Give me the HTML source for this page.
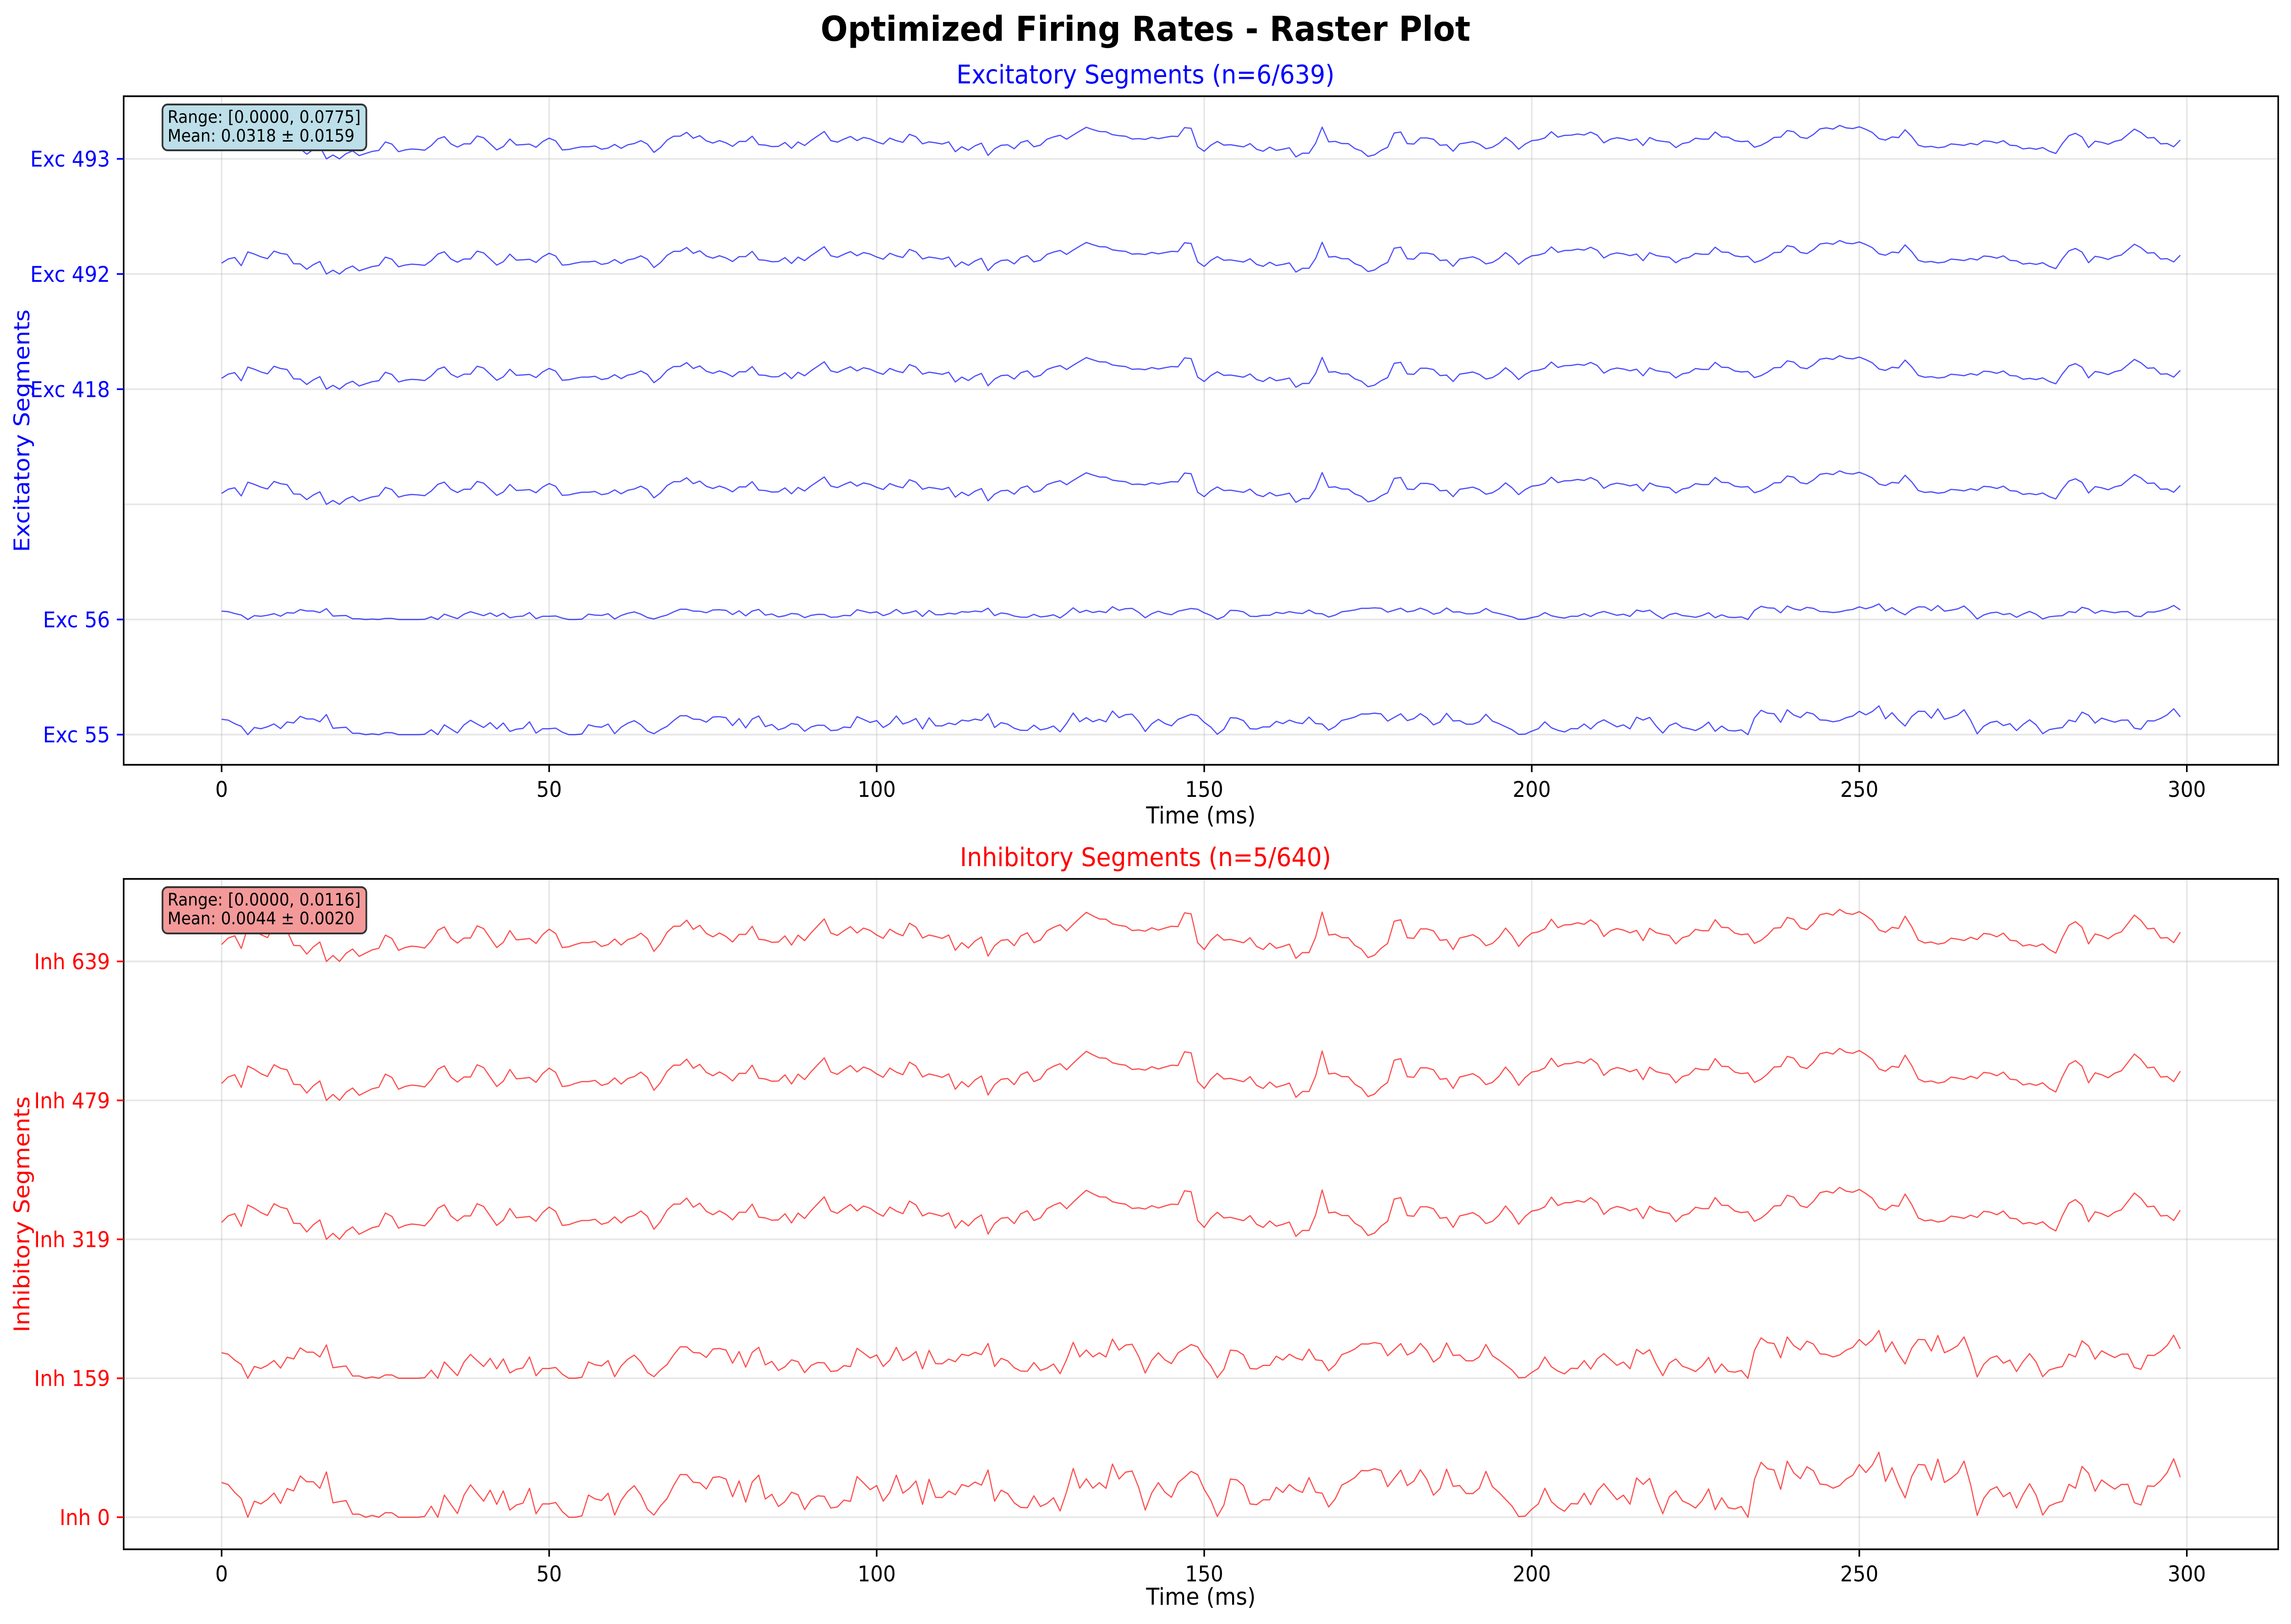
<!DOCTYPE html>
<html>
<head>
<meta charset="utf-8">
<style>
  html,body{margin:0;padding:0;background:#fff;width:100%;height:100%;overflow:hidden;}
  svg{display:block;width:100vw;height:100vh;}
  text{font-family:"DejaVu Sans","Liberation Sans",sans-serif;}
</style>
</head>
<body>
<svg id="fig" xmlns="http://www.w3.org/2000/svg" viewBox="0 0 5372 3544" preserveAspectRatio="none">
  <rect x="0" y="0" width="5372" height="3544" fill="#ffffff"/>
  <text x="2686" y="89" text-anchor="middle" font-size="75" font-weight="bold" fill="#000">Optimized Firing Rates - Raster Plot</text>

  <g id="top">
    <g id="topGrid"></g>
    <g id="topTraces"></g>
    <rect x="290" y="210" width="5052" height="1459" fill="none" stroke="#000" stroke-width="3.7"/>
    <g id="topTicks"></g>
    <text x="2686" y="182" text-anchor="middle" font-size="56" fill="#0000ff">Excitatory Segments (n=6/639)</text>
    <text x="2816" y="1797" text-anchor="middle" font-size="51" fill="#000">Time (ms)</text>
    <text transform="translate(69,940) rotate(-90)" text-anchor="middle" font-size="51" fill="#0000ff">Excitatory Segments</text>
    <g>
      <rect x="381" y="228" width="478" height="100" rx="12" ry="12" fill="#bcdfe9" stroke="#333" stroke-width="4"/>
      <text x="393" y="268" font-size="37" fill="#000">Range: [0.0000, 0.0775]</text>
      <text x="393" y="309" font-size="37" fill="#000">Mean: 0.0318 ± 0.0159</text>
    </g>
  </g>

  <g id="bot">
    <g id="botGrid"></g>
    <g id="botTraces"></g>
    <rect x="290" y="1918" width="5052" height="1463" fill="none" stroke="#000" stroke-width="3.7"/>
    <g id="botTicks"></g>
    <text x="2686" y="1890" text-anchor="middle" font-size="56" fill="#ff0000">Inhibitory Segments (n=5/640)</text>
    <text x="2816" y="3502" text-anchor="middle" font-size="51" fill="#000">Time (ms)</text>
    <text transform="translate(69,2650) rotate(-90)" text-anchor="middle" font-size="51" fill="#ff0000">Inhibitory Segments</text>
    <g>
      <rect x="381" y="1936" width="478" height="101" rx="12" ry="12" fill="#f39999" stroke="#333" stroke-width="4"/>
      <text x="393" y="1976" font-size="37" fill="#000">Range: [0.0000, 0.0116]</text>
      <text x="393" y="2017" font-size="37" fill="#000">Mean: 0.0044 ± 0.0020</text>
    </g>
  </g>
</svg>
<script>
// ---- data (relative firing-rate amplitude, arbitrary units, one value per ms) ----
const xTicks = [0, 50, 100, 150, 200, 250, 300];
const excLabels = ["Exc 55", "Exc 56", "", "Exc 418", "Exc 492", "Exc 493"];
const inhLabels = ["Inh 0", "Inh 159", "Inh 319", "Inh 479", "Inh 639"];

const rateShapeA = [
111,153,168,85,225,203,175,156,233,210,
200,105,103,48,95,127,0,39,0,53,
81,33,55,76,86,172,150,73,91,100,
96,88,135,203,226,153,120,153,153,233,
215,153,91,125,202,141,145,150,118,175,
211,183,91,96,111,123,123,131,98,110,
147,107,143,156,185,150,66,116,190,230,
231,270,210,236,183,161,186,163,127,177,
177,230,145,140,125,127,167,107,172,136,
188,233,278,186,170,201,228,186,218,203,
173,151,211,185,168,250,225,153,173,163,
151,173,73,123,88,133,160,35,103,138,
143,103,167,187,123,140,200,223,240,200,
243,283,321,298,278,276,246,236,230,202,
206,198,220,205,218,230,228,318,311,123,
78,138,177,140,144,133,122,155,98,78,
120,86,98,113,20,58,58,158,323,173,
178,156,155,105,81,25,41,86,118,263,
273,155,151,213,213,200,138,143,78,153,
163,175,150,103,118,158,218,168,98,150,
185,
193,213,276,221,239,241,253,243,272,241,
163,200,215,205,187,203,136,217,188,178,
170,115,156,168,210,201,201,273,223,221,
185,175,180,118,138,173,218,221,288,276,
220,208,248,305,315,303,340,315,308,326,
300,268,206,191,223,216,296,228,140,121,
127,113,121,152,146,137,158,143,183,178,
161,185,139,134,101,110,98,115,78,55,
155,236,260,223,115,180,168,148,178,193,
248,303,268,213,217,153,156,123,191
];

const rateShapeC = [
227,214,162,122,0,105,87,116,158,90,
187,172,270,232,232,189,296,94,102,109,
20,20,0,12,0,30,29,0,0,0,
0,5,72,0,145,84,24,144,212,157,
105,177,84,172,47,80,92,189,22,87,
87,96,37,0,0,9,145,120,110,157,
14,110,169,206,145,52,14,74,122,207,
279,279,229,225,185,260,265,250,134,237,
99,230,275,119,150,70,102,164,147,50,
114,140,137,60,67,112,104,266,224,180,
207,
105,162,275,157,189,237,84,248,130,129,
171,147,214,200,230,210,309,105,177,154,
94,64,62,140,70,90,127,41,167,319,
190,251,190,226,189,348,250,295,302,194,
47,160,226,164,130,225,262,300,279,182,
112,5,80,250,244,207,87,82,114,114,
196,162,214,180,162,259,164,157,67,120,
210,232,260,305,304,317,306,200,254,308,
207,236,310,247,144,187,314,202,207,155,
155,190,300,200,162,117,72,4,7,52,
87,189,102,64,39,89,87,157,82,172,
219,167,115,144,85,257,215,254,127,23,
134,172,107,87,60,109,185,49,127,62,
54,70,0,247,359,317,309,182,367,290,
252,330,304,217,212,190,207,250,274,344,
292,342,425,234,324,214,127,267,345,342,
242,380,227,254,289,367,212,12,124,179,
199,134,162,60,149,219,144,14,74,92,
104,215,190,332,287,170,244,212,184,214,
215,95,80,205,202,239,292,382,262
];

const excSeries = [
  {name:"exc-55",  row:0, data:rateShapeC, gain:0.000588},
  {name:"exc-56",  row:1, data:rateShapeC, gain:0.000318},
  {name:"exc-row3",row:2, data:rateShapeA, gain:0.000854},
  {name:"exc-418", row:3, data:rateShapeA, gain:0.000854},
  {name:"exc-492", row:4, data:rateShapeA, gain:0.000854},
  {name:"exc-493", row:5, data:rateShapeA, gain:0.000854}
];
const inhSeries = [
  {name:"inh-0",   row:0, data:rateShapeC, gain:0.00110},
  {name:"inh-159", row:1, data:rateShapeC, gain:0.00081},
  {name:"inh-319", row:2, data:rateShapeA, gain:0.00110},
  {name:"inh-479", row:3, data:rateShapeA, gain:0.00110},
  {name:"inh-639", row:4, data:rateShapeA, gain:0.00110}
];

const NS = "http://www.w3.org/2000/svg";
const axL = 290, axR = 5342;
const xMin = -14.95, xMax = 313.95;
function xPos(t){ return axL + (t - xMin) / (xMax - xMin) * (axR - axL); }

function makeY(top, bottom, yMin, yMax){
  return v => bottom - (v - yMin) / (yMax - yMin) * (bottom - top);
}
const yTop = makeY(210, 1669, -0.262, 5.544);
const yBot = makeY(1918, 3381, -0.231, 4.594);

function el(tag, attrs, parent){
  const e = document.createElementNS(NS, tag);
  for (const k in attrs) e.setAttribute(k, attrs[k]);
  parent.appendChild(e);
  return e;
}

function drawPanel(prefix, top, bottom, yFn, labels, series, color, colorHex){
  const grid = document.getElementById(prefix + "Grid");
  const traces = document.getElementById(prefix + "Traces");
  const ticks = document.getElementById(prefix + "Ticks");
  xTicks.forEach(t => {
    const x = xPos(t);
    const g = el("line", {x1:x, x2:x, y1:top, y2:bottom, stroke:"#b0b0b0", "stroke-opacity":"0.3", "stroke-width":"3.7"}, grid);
    
    
    const tk = el("line", {x1:x, x2:x, y1:bottom, y2:bottom + 16, stroke:"#000", "stroke-width":"3.7"}, ticks);
    
    
    const lb = el("text", {x:x, y:bottom + 70, "text-anchor":"middle", "font-size":"47", fill:"#000"}, ticks);
    lb.textContent = String(t);
    
    
  });
  labels.forEach((lab, i) => {
    const y = yFn(i);
    const g = el("line", {x1:axL, x2:axR, y1:y, y2:y, stroke:"#b0b0b0", "stroke-opacity":"0.3", "stroke-width":"3.7"}, grid);
    
    
    if (lab !== "") {
      const tk = el("line", {x1:axL - 16, x2:axL, y1:y, y2:y, stroke:colorHex, "stroke-width":"3.7"}, ticks);
      
      
      const lb = el("text", {x:axL - 32, y:y + 17, "text-anchor":"end", "font-size":"47", fill:colorHex}, ticks);
      lb.textContent = lab;
      
      
    }
  });
  series.forEach(s => {
    const pts = s.data.map((v, k) => xPos(k).toFixed(1) + "," + yFn(s.row + v * s.gain).toFixed(1)).join(" ");
    const p = el("polyline", {points:pts, fill:"none", stroke:color, "stroke-opacity":"0.7", "stroke-width":"2.6", "stroke-linejoin":"round"}, traces);
    
    
  });
}

drawPanel("top", 210, 1669, yTop, excLabels, excSeries, "#0000ff", "#0000ff");
drawPanel("bot", 1918, 3381, yBot, inhLabels, inhSeries, "#ff0000", "#ff0000");
</script>
</body>
</html>
